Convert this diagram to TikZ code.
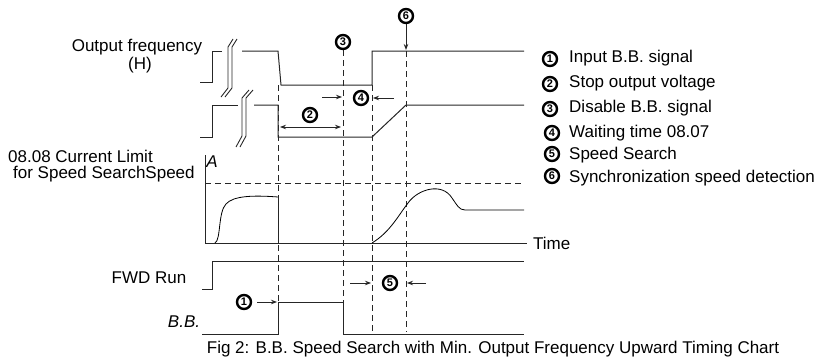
\documentclass[tikz,border=0pt]{standalone}
\usepackage{fontspec}
\setmainfont{Liberation Sans}
\usetikzlibrary{arrows.meta}
\begin{document}
\begin{tikzpicture}[x=1pt,y=-1pt,
  trace/.style={line width=1pt, black!85},
  guide/.style={line width=0.9pt, black!85, dash pattern=on 6pt off 4pt},
  brk/.style={line width=0.9pt, black!85},
  num/.style={circle, draw, line width=2.4pt, inner sep=0pt, minimum size=14pt, font=\bfseries\fontsize{11}{11}\selectfont},
  lbl/.style={font=\fontsize{17}{20}\selectfont, inner sep=0pt},
  captxt/.style={font=\fontsize{17}{20}\selectfont, inner sep=0pt},
  tip/.style={-{Stealth[length=6pt,width=4.5pt]}, line width=0.9pt, black!85},
  tips/.style={{Stealth[length=6pt,width=4.5pt]}-{Stealth[length=6pt,width=4.5pt]}, line width=0.9pt, black!85},
]
\useasboundingbox (0,0) rectangle (822,359);

% ---------- labels on the left
\node[lbl] (of) at (137,47) {Output frequency};
\node[lbl] (oh) at (140,65) {(H)};
\node[lbl, anchor=west] (cl1) at (8,156) {08.08 Current Limit};
\node[lbl, anchor=west] (cl2) at (13,174) {for Speed SearchSpeed};
\node[lbl] (aa) at (212,162) {\itshape A};
\node[lbl, anchor=west] (tm) at (533,243) {Time};
\node[lbl] (fwd) at (149,278) {FWD Run};
\node[lbl] (bb) at (184,322) {\itshape B.B.};

% ---------- guide (dashed) lines
\draw[guide] (278,85) -- (278,334);
\draw[guide] (343,50) -- (343,334);
\draw[guide] (372,85) -- (372,332);
\draw[guide] (406,51) -- (406,332);
\draw[guide] (205,183) -- (524,183);

% ---------- output frequency trace
\draw[trace] (200,82) -- (212,82) -- (212,51) -- (222,51);
\draw[trace] (242,51) -- (278,51) -- (281,85) -- (372,85) -- (372,51) -- (524,51);
\draw[brk] (233,39) -- (228,47) -- (228,88) -- (221,97);
\draw[brk] (237,39) -- (232,47) -- (232,88) -- (225,97);

% ---------- output frequency (H) lower trace
\draw[trace] (200,137) -- (212,137) -- (212,105) -- (238,105);
\draw[trace] (254,105) -- (278,105) -- (278,137) -- (372,137) -- (406,105) -- (524,105);
\draw[brk] (249,90) -- (242,98) -- (242,136) -- (236,147);
\draw[brk] (253,90) -- (246,98) -- (246,136) -- (240,147);

% ---------- current plot
\draw[trace] (205,155) -- (205,243) -- (527,243);
\draw[line width=0.8pt] (215,243) .. controls (221,240) and (218,212) .. (226,204)
  .. controls (233,196) and (252,195) .. (278,197);
\draw[trace] (278,197) -- (278,243);
\draw[line width=0.8pt] (372,243) .. controls (390,232) and (398,216) .. (408,203)
  .. controls (418,189) and (442,182) .. (452,198)
  .. controls (457,205) and (459,210) .. (465,210) -- (524,210);

% ---------- FWD run
\draw[trace] (202,289) -- (212,289) -- (212,261) -- (524,261);

% ---------- B.B.
\draw[trace] (202,334) -- (278,334) -- (278,302) -- (343,302) -- (343,334) -- (524,334);

% ---------- markers
\node[num] (m6) at (406,16) {6};
\coordinate (m6t) at (406,50);
\draw[tip] (m6) -- (m6t);
\node[num] (m3) at (343,42) {3};
\node[num] (m4) at (361,98) {4};
\coordinate (m4a) at (322,97);
\coordinate (m4b) at (342,97);
\coordinate (m4c) at (394,98);
\coordinate (m4d) at (373,98);
\draw[tip] (m4a) -- (m4b);
\draw[tip] (m4c) -- (m4d);
\node[num] (m2) at (310,115) {2};
\coordinate (m2a) at (280,127);
\coordinate (m2b) at (341,127);
\draw[tips] (m2a) -- (m2b);
\node[num] (m5) at (390,283) {5};
\coordinate (m5a) at (350,283);
\coordinate (m5b) at (371,283);
\coordinate (m5c) at (426,283);
\coordinate (m5d) at (407,283);
\draw[tip] (m5a) -- (m5b);
\draw[tip] (m5c) -- (m5d);
\node[num] (m1) at (244,302) {1};
\coordinate (m1a) at (257,302);
\coordinate (m1t) at (277,302);
\draw[tip] (m1a) -- (m1t);

% ---------- legend
\node[num] (l1) at (550,59) {1};
\node[lbl, anchor=west] (t1) at (569,58) {Input B.B. signal};
\node[num] (l2) at (550,84) {2};
\node[lbl, anchor=west] (t2) at (569,83) {Stop output voltage};
\node[num] (l3) at (550,109) {3};
\node[lbl, anchor=west] (t3) at (569,108) {Disable B.B. signal};
\node[num] (l4) at (552,133) {4};
\node[lbl, anchor=west] (t4) at (569,133) {Waiting time 08.07};
\node[num] (l5) at (552,154) {5};
\node[lbl, anchor=west] (t5) at (569,155) {Speed Search};
\node[num] (l6) at (552,176) {6};
\node[lbl, anchor=west] (t6) at (569,178) {Synchronization speed detection};

% ---------- caption
\node[captxt] (capt) at (493,349) {Fig 2: B.B. Speed Search with Min. Output Frequency Upward Timing Chart};
\end{tikzpicture}
\end{document}
